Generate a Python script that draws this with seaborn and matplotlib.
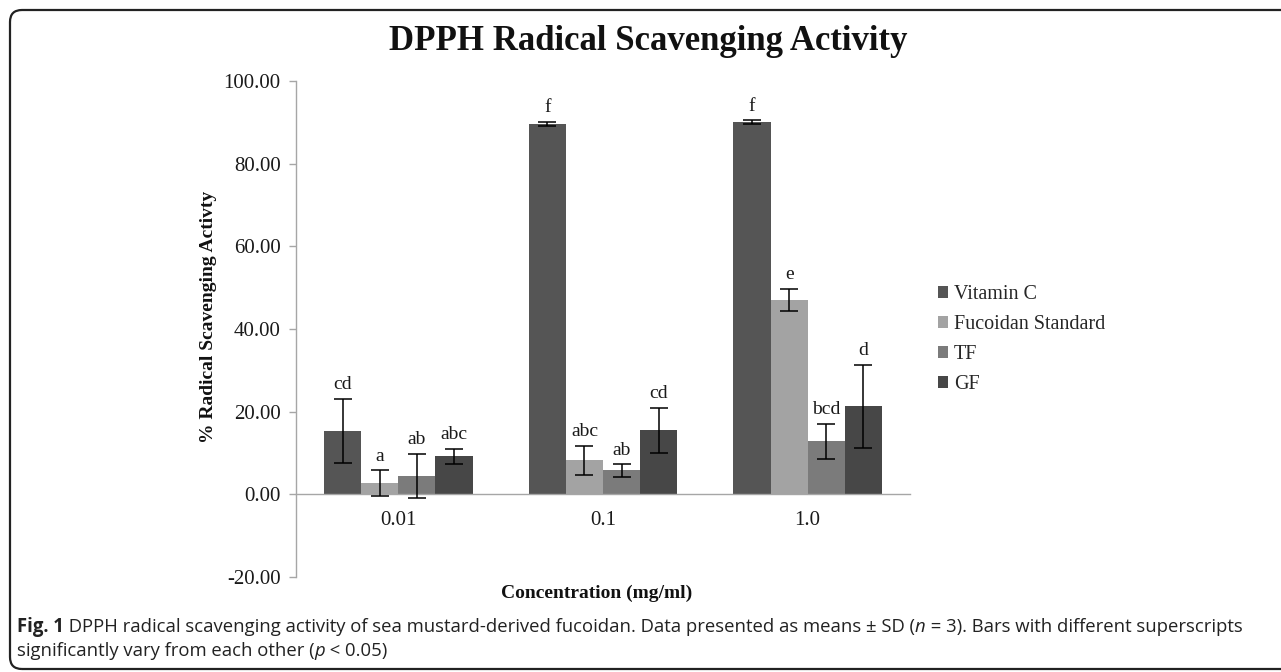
import numpy as np
import pandas as pd
import matplotlib
matplotlib.use("Agg")
import matplotlib.pyplot as plt
import seaborn as sns
from matplotlib.patches import FancyBboxPatch
from matplotlib.transforms import IdentityTransform
from matplotlib.ticker import FormatStrFormatter
from matplotlib.container import BarContainer

# ---------------- data ----------------
concentrations = ["0.01", "0.1", "1.0"]
series = ["Vitamin C", "Fucoidan Standard", "TF", "GF"]

vitamin_c = [15.3, 89.6, 90.1]
vitamin_c_sd = [7.8, 0.5, 0.45]
fucoidan_std = [2.75, 8.2, 47.0]
fucoidan_std_sd = [3.05, 3.6, 2.7]
tf = [4.5, 5.8, 12.8]
tf_sd = [5.3, 1.5, 4.3]
gf = [9.2, 15.5, 21.3]
gf_sd = [1.8, 5.4, 10.0]

vitamin_c_letters = ["cd", "f", "f"]
fucoidan_std_letters = ["a", "abc", "e"]
tf_letters = ["ab", "ab", "bcd"]
gf_letters = ["abc", "cd", "d"]

y_ticks = [-20, 0, 20, 40, 60, 80, 100]

means = [vitamin_c, fucoidan_std, tf, gf]
sds = [vitamin_c_sd, fucoidan_std_sd, tf_sd, gf_sd]
letters = [vitamin_c_letters, fucoidan_std_letters, tf_letters, gf_letters]
colors = ["#555555", "#a3a3a3", "#7b7b7b", "#474747"]

rows = []
for s, m in zip(series, means):
    for c, v in zip(concentrations, m):
        rows.append({"Concentration": c, "Series": s, "Value": v})
df = pd.DataFrame(rows)

# ---------------- figure ----------------
W, H = 1281, 672
sns.set_theme(style="white")
plt.rcParams["font.family"] = ["Liberation Serif", "DejaVu Serif"]

fig = plt.figure(figsize=(W / 100, H / 100), dpi=100)
fig.patch.set_facecolor("white")

L, R, T, B = 296, 910, 81, 577
ax = fig.add_axes([L / W, 1 - B / H, (R - L) / W, (B - T) / H])

sns.barplot(data=df, x="Concentration", y="Value", hue="Series",
            order=concentrations, hue_order=series, palette=colors,
            width=0.725, errorbar=None, saturation=1, linewidth=0,
            ax=ax)

bar_conts = [c for c in ax.containers if isinstance(c, BarContainer)]
for i, cont in enumerate(bar_conts):
    for j, bar in enumerate(list(cont.patches)):
        xc = bar.get_x() + bar.get_width() / 2
        m = means[i][j]
        sd = sds[i][j]
        ax.errorbar(xc, m, yerr=sd, fmt="none", ecolor="black",
                    elinewidth=1.1, capsize=6.5, capthick=1.1, zorder=5)
        ax.annotate(letters[i][j], (xc, m + sd), xytext=(0, 4),
                    textcoords="offset points", ha="center", va="bottom",
                    fontsize=14, color="#1a1a1a")

ax.set_xlim(-0.5, 2.5)
ax.set_ylim(-20, 100)
ax.set_yticks(y_ticks)
ax.yaxis.set_major_formatter(FormatStrFormatter("%.2f"))
ax.set_xlabel("")
ax.set_ylabel("")
for sp in ["top", "right"]:
    ax.spines[sp].set_visible(False)
ax.spines["left"].set_color("#a6a6a6")
ax.spines["left"].set_linewidth(1)
ax.spines["bottom"].set_position(("data", 0))
ax.spines["bottom"].set_color("#a6a6a6")
ax.spines["bottom"].set_linewidth(1)
ax.tick_params(axis="y", left=True, length=5, width=1, color="#a6a6a6",
               labelsize=15, pad=6, labelcolor="#1a1a1a")
ax.tick_params(axis="x", bottom=False, length=0, labelsize=15, pad=12,
               labelcolor="#1a1a1a")
ax.set_facecolor("white")
ax.grid(False)

# legend
handles, labels = ax.get_legend_handles_labels()
if ax.get_legend() is not None:
    ax.get_legend().remove()
fig.legend(handles, labels, loc="upper left",
           bbox_to_anchor=(938 / W, 1 - 285 / H), frameon=False,
           fontsize=14.5, handlelength=0.5, handleheight=0.5,
           handletextpad=0.3, labelspacing=0.55, borderpad=0,
           borderaxespad=0)

# titles / labels
fig.text(648 / W, 1 - 50 / H, "DPPH Radical Scavenging Activity",
         ha="center", va="baseline", fontsize=25, fontweight="bold",
         color="#111111")
fig.text(209 / W, 1 - 317 / H, "% Radical Scavenging Activty",
         ha="center", va="center", rotation=90, fontsize=14,
         fontweight="bold", color="#111111")
fig.text(597 / W, 1 - 598 / H, "Concentration (mg/ml)",
         ha="center", va="baseline", fontsize=14, fontweight="bold",
         color="#111111")

# border
border = FancyBboxPatch((10, H - 669), 1300, 659,
                        boxstyle="round,pad=0,rounding_size=12",
                        transform=IdentityTransform(), facecolor="none",
                        edgecolor="#222222", linewidth=1.6, clip_on=False)
fig.add_artist(border)

# caption
renderer = fig.canvas.get_renderer()
cap_family = ["Open Sans", "DejaVu Sans"]
line1 = [("Fig. 1", {"fontweight": "bold"}),
         (" DPPH radical scavenging activity of sea mustard-derived fucoidan. Data presented as means ± SD (", {}),
         ("n", {"fontstyle": "italic"}),
         (" = 3). Bars with different superscripts", {})]
line2 = [("significantly vary from each other (", {}),
         ("p", {"fontstyle": "italic"}),
         (" < 0.05)", {})]


def measure(pieces, size):
    tot = 0
    for txt, kw in pieces:
        t = fig.text(0, 0, txt, fontsize=size, family=cap_family, **kw)
        tot += t.get_window_extent(renderer).width
        t.remove()
    return tot


cap_x0 = 17
target = 1248 - cap_x0
cap_size = 10 * target / measure(line1, 10)


def draw_line(pieces, y):
    x = cap_x0
    for txt, kw in pieces:
        t = fig.text(x / W, 1 - y / H, txt, fontsize=cap_size,
                     family=cap_family, ha="left", va="baseline",
                     color="#222222", **kw)
        x += t.get_window_extent(renderer).width


draw_line(line1, 632)
draw_line(line2, 656)

fig.savefig("out.png", dpi=100, facecolor="white")
